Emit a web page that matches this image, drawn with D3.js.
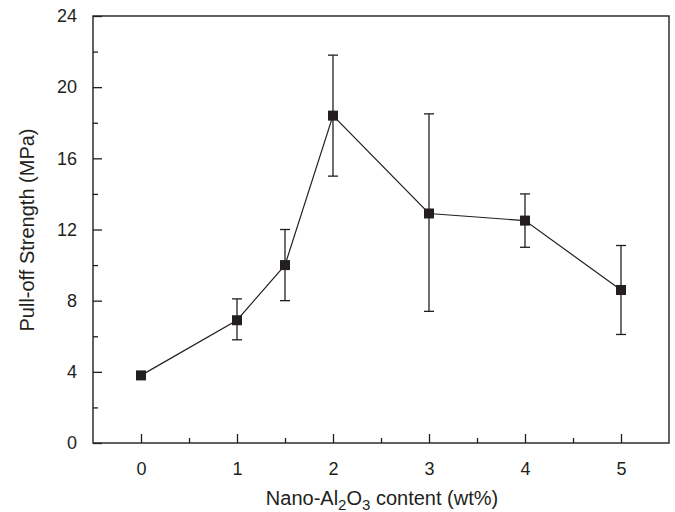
<!DOCTYPE html>
<html>
<head>
<meta charset="utf-8">
<script src="https://cdn.jsdelivr.net/npm/d3@7"></script>
<style>
  body { margin: 0; background: #fff; }
  text { font-family: "Liberation Sans", Arial, sans-serif; fill: #231f20; }
</style>
</head>
<body>
<svg id="chart"></svg>
<script>
var width = 675,
    height = 512;

// data
var content = [0, 1, 1.5, 2, 3, 4, 5];
var strength = [3.8, 6.9, 10.0, 18.4, 12.9, 12.5, 8.6];
var errLow = [3.8, 5.8, 8.0, 15.0, 7.4, 11.0, 6.1];
var errHigh = [3.8, 8.1, 12.0, 21.8, 18.5, 14.0, 11.1];
var xTicks = [0, 1, 2, 3, 4, 5];
var xMinor = [0.5, 1.5, 2.5, 3.5, 4.5];
var yTicks = [0, 4, 8, 12, 16, 20, 24];
var yMinor = [2, 6, 10, 14, 18, 22];

var ink = "#231f20";

var svg = d3.select("#chart")
    .attr("width", width)
    .attr("height", height);

var mLeft = 93, mRight = 669, mTop = 16, mBottom = 443;

var x = d3.scaleLinear().domain([-0.5, 5.5]).range([mLeft, mRight]);
var y = d3.scaleLinear().domain([0, 24]).range([mBottom, mTop]);

// frame
svg.append("rect")
    .attr("x", mLeft).attr("y", mTop)
    .attr("width", mRight - mLeft).attr("height", mBottom - mTop)
    .style("fill", "none").style("stroke", ink).style("stroke-width", 1.4);

// x axis (ticks inward)
var xAxis = svg.append("g").attr("transform", "translate(0," + mBottom + ")")
    .call(d3.axisBottom(x).tickValues(xTicks).tickFormat(d3.format("d"))
        .tickSizeInner(-9).tickSizeOuter(0).tickPadding(19));
xAxis.select(".domain").remove();
xAxis.selectAll("line").style("stroke", ink).style("stroke-width", 1.3);
xAxis.selectAll("text").style("font-size", "18px").style("fill", ink)
    .style("font-family", "'Liberation Sans', Arial, sans-serif");

svg.append("g").attr("transform", "translate(0," + mBottom + ")")
    .call(d3.axisBottom(x).tickValues(xMinor).tickSizeInner(-5).tickSizeOuter(0).tickFormat(""))
    .call(function(g) { g.select(".domain").remove(); })
    .selectAll("line").style("stroke", ink).style("stroke-width", 1.3);

// y axis
var yAxis = svg.append("g").attr("transform", "translate(" + mLeft + ",0)")
    .call(d3.axisLeft(y).tickValues(yTicks).tickFormat(d3.format("d"))
        .tickSizeInner(-9).tickSizeOuter(0).tickPadding(16));
yAxis.select(".domain").remove();
yAxis.selectAll("line").style("stroke", ink).style("stroke-width", 1.3);
yAxis.selectAll("text").style("font-size", "18px").style("fill", ink)
    .style("font-family", "'Liberation Sans', Arial, sans-serif");

svg.append("g").attr("transform", "translate(" + mLeft + ",0)")
    .call(d3.axisLeft(y).tickValues(yMinor).tickSizeInner(-5).tickSizeOuter(0).tickFormat(""))
    .call(function(g) { g.select(".domain").remove(); })
    .selectAll("line").style("stroke", ink).style("stroke-width", 1.3);

// axis titles
svg.append("text")
    .attr("transform", "translate(34,230) rotate(-90)")
    .attr("text-anchor", "middle")
    .style("font-size", "20px")
    .text("Pull-off Strength (MPa)");

var xt = svg.append("text")
    .attr("x", 382)
    .attr("y", 505)
    .attr("text-anchor", "middle")
    .style("font-size", "20px");
xt.append("tspan").text("Nano-Al");
xt.append("tspan").attr("dy", 5).style("font-size", "15px").text("2");
xt.append("tspan").attr("dy", -5).text("O");
xt.append("tspan").attr("dy", 5).style("font-size", "15px").text("3");
xt.append("tspan").attr("dy", -5).text(" content (wt%)");

var pts = content.map(function(c, i) {
    return { x: c, y: strength[i], lo: errLow[i], hi: errHigh[i] };
});

// error bars
var eb = svg.append("g").selectAll("g")
    .data(pts.filter(function(d) { return d.hi > d.lo; }))
    .enter().append("g")
    .style("stroke", ink).style("stroke-width", 1.3);
eb.append("line")
    .attr("x1", function(d) { return x(d.x); })
    .attr("x2", function(d) { return x(d.x); })
    .attr("y1", function(d) { return y(d.lo); })
    .attr("y2", function(d) { return y(d.hi); });
eb.selectAll(".cap")
    .data(function(d) { return [{ x: d.x, v: d.lo }, { x: d.x, v: d.hi }]; })
    .enter().append("line")
    .attr("x1", function(d) { return x(d.x) - 5; })
    .attr("x2", function(d) { return x(d.x) + 5; })
    .attr("y1", function(d) { return y(d.v); })
    .attr("y2", function(d) { return y(d.v); });

// line
svg.append("path")
    .datum(pts)
    .attr("d", d3.line().x(function(d) { return x(d.x); }).y(function(d) { return y(d.y); }))
    .style("fill", "none").style("stroke", ink).style("stroke-width", 1.2);

// markers
svg.append("g").selectAll("rect")
    .data(pts)
    .enter().append("rect")
    .attr("x", function(d) { return x(d.x) - 5; })
    .attr("y", function(d) { return y(d.y) - 5; })
    .attr("width", 10).attr("height", 10)
    .style("fill", ink);
</script>
</body>
</html>
